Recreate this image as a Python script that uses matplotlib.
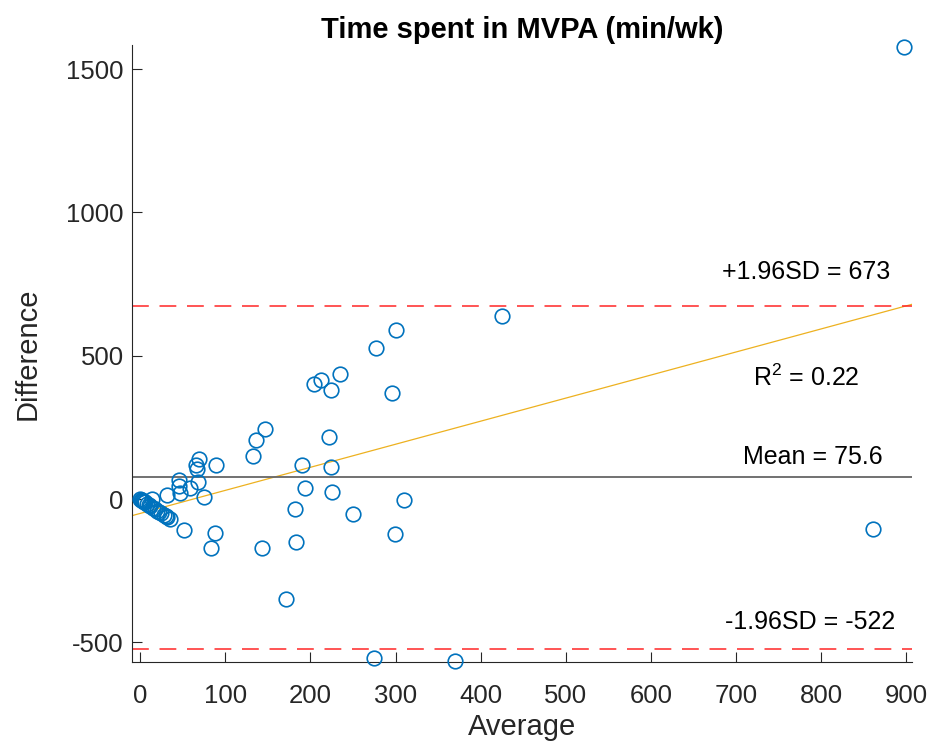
import numpy as np
import matplotlib
matplotlib.use('Agg')
import matplotlib.pyplot as plt

plt.rcParams['font.family'] = ['Liberation Sans', 'DejaVu Sans']
plt.rcParams['axes.unicode_minus'] = False

# Bland-Altman values
avg = [0, 1, 2, 3, 4, 5, 6, 8, 10, 12, 15, 18, 20, 22, 25, 28, 30, 32, 35,
       14, 32, 45.5, 46, 47, 58.5, 65.4, 66.9, 68.5, 69.3, 75.5, 89.6,
       51.3, 87.7, 83.4, 133.1, 136.2, 146.8, 142.8, 171.4, 181.6, 183.5,
       189.8, 193.7, 204.7, 212.1, 221.9, 224.3, 224.7, 225.4, 234.8, 249.7,
       274.7, 277.5, 295.9, 299, 300.2, 309.6, 370, 424.7, 861, 897]
diff = [0, -2, -4, -6, -8, -10, -12, -16, -20, -24, -30, -36, -40, -44, -50, -56, -60, -64, -70,
        -1, 14, 46, 68, 22, 40, 117.5, 103.6, 60, 139.6, 6, 118.6,
        -107, -118.6, -171, 151, 206, 245, -171, -349, -36, -151,
        118.6, 39.5, 401, 416, 215, 110.5, 381, 25.6, 436, -52,
        -555, 525.8, 369, -123, 590.7, -3.5, -565, 638, -105, 1577]

mean_diff = 75.6
upper = 673
lower = -522
r2 = 0.22
fit_slope = 0.805
fit_icpt = -50.3

xlim = (-9.4, 906.5)
ylim = (-569, 1584)

fig = plt.figure(figsize=(9.33, 7.44), dpi=100)
ax = fig.add_axes([0.1415, 0.110, 0.836, 0.8295])

blue = (0, 0.447, 0.741)
ax.plot(avg, diff, 'o', mfc='none', mec=blue, ms=10.5, mew=1.2, clip_on=False, zorder=3)

xs = np.array(xlim)
ax.plot(xs, fit_icpt + fit_slope * xs, color=(0.929, 0.694, 0.125), lw=0.9)
ax.axhline(mean_diff, color=(0.4, 0.4, 0.4), lw=1.3)
ax.axhline(upper, color=(1, 0.15, 0.15), lw=1.1, ls=(0, (11, 7)))
ax.axhline(lower, color=(1, 0.15, 0.15), lw=1.1, ls=(0, (11, 7)))

ax.text(782, 792, '+1.96SD = %d' % upper, ha='center', va='center', fontsize=18)
ax.text(782, 422, '$\\mathregular{R^2}$ = %.2f' % r2, ha='center', va='center', fontsize=18)
ax.text(790, 146, 'Mean = %.1f' % mean_diff, ha='center', va='center', fontsize=18)
ax.text(787, -429, '-1.96SD = %d' % lower, ha='center', va='center', fontsize=18)

ax.set_xlim(xlim)
ax.set_ylim(ylim)
ax.set_xticks(range(0, 901, 100))
ax.set_yticks([-500, 0, 500, 1000, 1500])
ax.tick_params(direction='in', length=7, labelsize=18.5, colors=(0.15, 0.15, 0.15))
ax.tick_params(axis='x', pad=16)
ax.tick_params(axis='y', pad=6)
for s in ['top', 'right']:
    ax.spines[s].set_visible(False)
for s in ['left', 'bottom']:
    ax.spines[s].set_color((0.15, 0.15, 0.15))

ax.set_xlabel('Average', fontsize=21, color=(0.15, 0.15, 0.15), labelpad=3)
ax.set_ylabel('Difference', fontsize=21, color=(0.15, 0.15, 0.15), labelpad=18)
ax.set_title('Time spent in MVPA (min/wk)', fontsize=21, fontweight='bold', pad=5)

fig.savefig('out.png', dpi=100)
